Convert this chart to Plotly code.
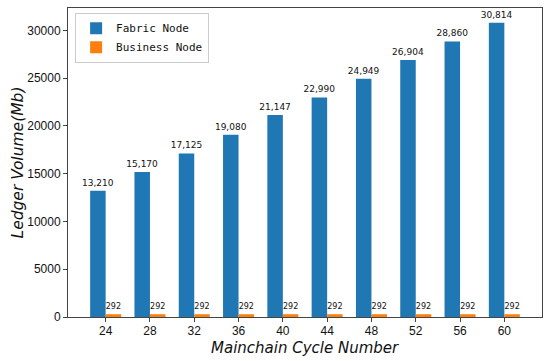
import plotly.graph_objects as go

cycles = ["24", "28", "32", "36", "40", "44", "48", "52", "56", "60"]
fabric = [13210, 15170, 17125, 19080, 21147, 22990, 24949, 26904, 28860, 30814]
business = [292, 292, 292, 292, 292, 292, 292, 292, 292, 292]
yticks = [0, 5000, 10000, 15000, 20000, 25000, 30000]

fig = go.Figure()
fig.add_trace(go.Bar(x=cycles, y=fabric, name="Fabric Node", marker_color="#1f77b4",
                     marker_line_width=0, texttemplate="%{y:,}", textposition="outside",
                     textfont=dict(family="DejaVu Sans", size=9, color="#111"),
                     cliponaxis=False, constraintext="none"))
fig.add_trace(go.Bar(x=cycles, y=business, name="Business Node", marker_color="#ff7f0e",
                     marker_line_width=0, texttemplate="%{y:,}", textposition="outside",
                     textfont=dict(family="DejaVu Sans", size=8, color="#111"),
                     cliponaxis=False, constraintext="none"))

fig.update_layout(
    width=550, height=361, autosize=False,
    margin=dict(l=68, r=8, t=8, b=44),
    barmode="group", bargap=0.3, bargroupgap=0,
    plot_bgcolor="white", paper_bgcolor="white",
    font=dict(family="Liberation Sans", size=12, color="#111"),
    showlegend=True,
    legend=dict(x=0.015, y=0.985, xanchor="left", yanchor="top",
                bgcolor="rgba(255,255,255,0.9)", bordercolor="#ccc", borderwidth=1,
                font=dict(family="DejaVu Sans Mono", size=11, color="#111"),
                itemwidth=30, tracegroupgap=0),
    xaxis=dict(type="category", range=[-0.85, 9.85], showline=True, linecolor="#444",
               linewidth=1, mirror=True, ticks="outside", ticklen=4, tickcolor="#444",
               ticklabelstandoff=-1, automargin=False),
    yaxis=dict(range=[0, 32355], tickvals=yticks, tickformat="d", showline=True,
               linecolor="#444", linewidth=1, mirror=True, ticks="outside", ticklen=4,
               tickcolor="#444", showgrid=False, zeroline=False, automargin=False),
    annotations=[
        dict(text="Mainchain Cycle Number", xref="paper", yref="paper", x=0.5, y=0,
             yshift=-31, xanchor="center", yanchor="middle", showarrow=False,
             font=dict(family="DejaVu Sans", size=15, style="italic", color="#111")),
        dict(text="Ledger Volume(Mb)", xref="paper", yref="paper", x=0, y=0.5,
             xshift=-51, xanchor="center", yanchor="middle", showarrow=False, textangle=-90,
             font=dict(family="DejaVu Sans", size=15.5, style="italic", color="#111")),
    ],
)
fig.write_html("out.html", config={"responsive": False, "displayModeBar": False},
               post_script="document.body.style.margin='0';document.body.style.overflow='hidden';")
